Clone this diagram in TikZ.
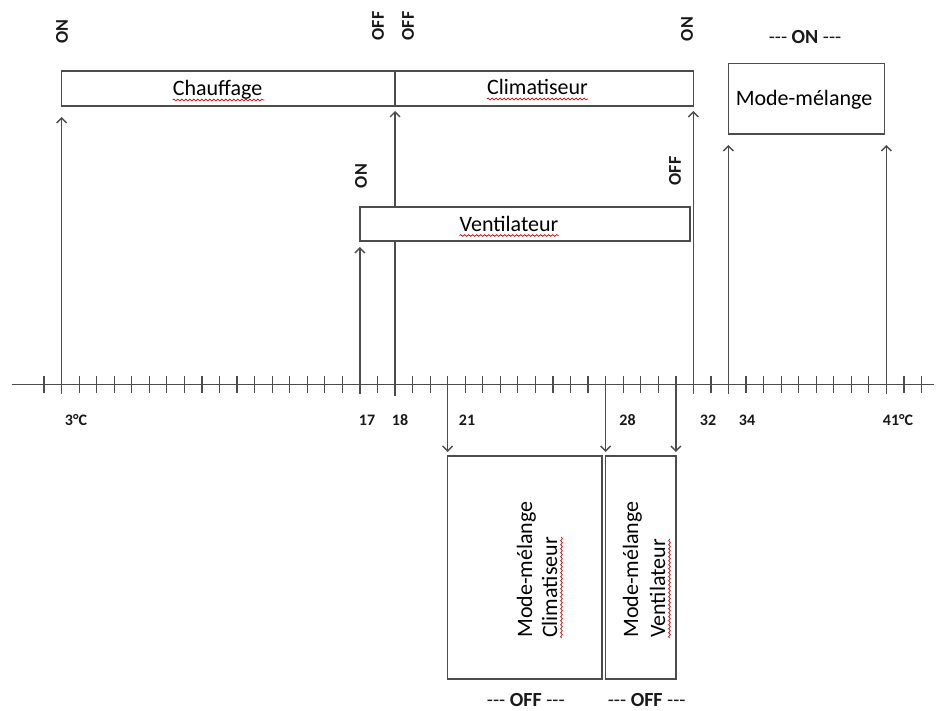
\documentclass[tikz,border=0pt]{standalone}
\usepackage{fontspec}
\setmainfont{Carlito}
\usetikzlibrary{arrows.meta,calc,decorations.pathmorphing}
\begin{document}
\begin{tikzpicture}[x=1pt,y=-1pt,
  ln/.style={draw=black!70, line width=1.4pt},
  tickmark/.style={draw=black!70, line width=1.2pt},
  upar/.style={ln, -{Straight Barb[length=5pt,width=10pt]}},
  box/.style={draw=black!70, line width=1.4pt, fill=white, inner sep=0pt, outer sep=0pt},
  boxtxt/.style={font=\fontsize{22}{26}\selectfont, inner sep=0pt, anchor=base},
  rottxt/.style={font=\fontsize{22}{26}\selectfont, inner sep=0pt, rotate=90, anchor=base west},
  onoff/.style={font=\fontsize{18}{21}\selectfont\bfseries, rotate=90, inner sep=0pt, text=black!90},
  axlab/.style={font=\fontsize{16}{19}\selectfont\bfseries, inner sep=0pt, text=black!90},
  statelab/.style={font=\fontsize{20}{24}\selectfont, inner sep=0pt, text=black!90},
  squig/.style={draw=red!85!black, line width=0.7pt, decorate, decoration={snake, amplitude=0.9pt, segment length=4pt}},
]
\useasboundingbox (0,0) rectangle (936,711);

% axis and ticks
\coordinate (axL) at (12,384.5);
\coordinate (axR) at (934,384.5);
\draw[ln, line width=1.3pt] (axL) -- (axR);
\foreach \i in {0,...,50} {
  \draw[tickmark] ({44+17.55*\i},376) -- ({44+17.55*\i},393);
}

% axis coordinates
\coordinate (a3)  at ({44+17.55*1},394);
\coordinate (a17) at ({44+17.55*18},394);
\coordinate (a18) at ({44+17.55*20},396);
\coordinate (a21) at ({44+17.55*23},376);
\coordinate (a28) at ({44+17.55*32},376);
\coordinate (a30) at ({44+17.55*36},376);
\coordinate (a32) at ({44+17.55*37},394);
\coordinate (a34) at ({44+17.55*39},394);
\coordinate (a41) at ({44+17.55*48},394);

% axis labels
\node[axlab] (l3)  at (76,420) {3°C};
\node[axlab] (l17) at (367,420) {17};
\node[axlab] (l18) at (400,420) {18};
\node[axlab] (l21) at (467,420) {21};
\node[axlab] (l28) at (627.5,420) {28};
\node[axlab] (l32) at (708,420) {32};
\node[axlab] (l34) at (747,420) {34};
\node[axlab] (l41) at (898,420) {41°C};

% top boxes
\node[box, minimum width=333.45pt, minimum height=35pt] (chauf) at (228.3,88.5) {};
\node[box, minimum width=298.35pt, minimum height=35pt] (clim) at (544.2,88.5) {};
\node[box, minimum width=156pt, minimum height=70.5pt] (mmtop) at (806.5,98.75) {};
\node[boxtxt] (tchauf) at (217.5,96) {Chauffage};
\node[boxtxt] (tclim) at (537.5,95) {Climatiseur};
\node[boxtxt] (tmm) at (804,105.5) {Mode-mélange};
\draw[squig] ($(tchauf.base west)+(0,4)$) -- ($(tchauf.base east)+(2,4)$);
\draw[squig] ($(tclim.base west)+(0,4)$) -- ($(tclim.base east)+(0,4)$);

% bottom boxes
\node[box, minimum width=154.35pt, minimum height=223pt] (mmb1) at (524.8,567.5) {};
\node[box, minimum width=70.2pt, minimum height=223pt] (mmb2) at (640.7,567.5) {};
\node[rottxt] (tb1a) at (532,638) {Mode-mélange};
\node[rottxt] (tb1b) at (557,638) {Climatiseur};
\node[rottxt] (tb2a) at (638,638) {Mode-mélange};
\node[rottxt] (tb2b) at (665,638) {Ventilateur};
\draw[squig] ($(tb1b.base west)+(4.5,0)$) -- ($(tb1b.base east)+(4.5,0)$);
\draw[squig] ($(tb2b.base west)+(4.5,0)$) -- ($(tb2b.base east)+(4.5,0)$);

% arrows up to top boxes
\draw[upar, shorten >=11pt] (a3) -- (a3 |- chauf.south);
\draw[upar, shorten >=5pt] (a18) -- (a18 |- chauf.south);
\draw[upar, shorten >=5pt] (a32) -- (a32 |- clim.south);
\draw[upar, shorten >=11pt] (a34) -- (a34 |- mmtop.south);
\draw[upar, shorten >=11pt] (a41) -- (a41 |- mmtop.south);

% arrows down to bottom boxes
\draw[upar, shorten >=4pt] (a21) -- (a21 |- mmb1.north);
\draw[upar, shorten >=4pt] (a28) -- (a28 |- mmb2.north);
\draw[upar, shorten >=4pt] (a30) -- (a30 |- mmb2.north);

% ventilateur box (drawn over the 18 line)
\node[box, minimum width=330pt, minimum height=34pt] (vent) at (525,224) {};
\node[boxtxt] (tvent) at (509,231.5) {Ventilateur};
\draw[squig] ($(tvent.base west)+(0,4)$) -- ($(tvent.base east)+(0,4)$);
\draw[upar, shorten >=6pt] (a17) -- (a17 |- vent.south);

% ON / OFF labels
\node[onoff] (on1) at (62,31.5) {ON};
\node[onoff] (off1) at (378,26) {OFF};
\node[onoff] (off2) at (408,26) {OFF};
\node[onoff] (on2) at (687,29) {ON};
\node[onoff] (on3) at (361,176) {ON};
\node[onoff] (off3) at (675,171) {OFF};

% state labels
\node[statelab] (son) at (805,37) {-{}-{}- \textbf{ON} -{}-{}-};
\node[statelab] (soff1) at (525.8,700) {-{}-{}- \textbf{OFF} -{}-{}-};
\node[statelab] (soff2) at (646.7,700) {-{}-{}- \textbf{OFF} -{}-{}-};
\end{tikzpicture}
\end{document}
